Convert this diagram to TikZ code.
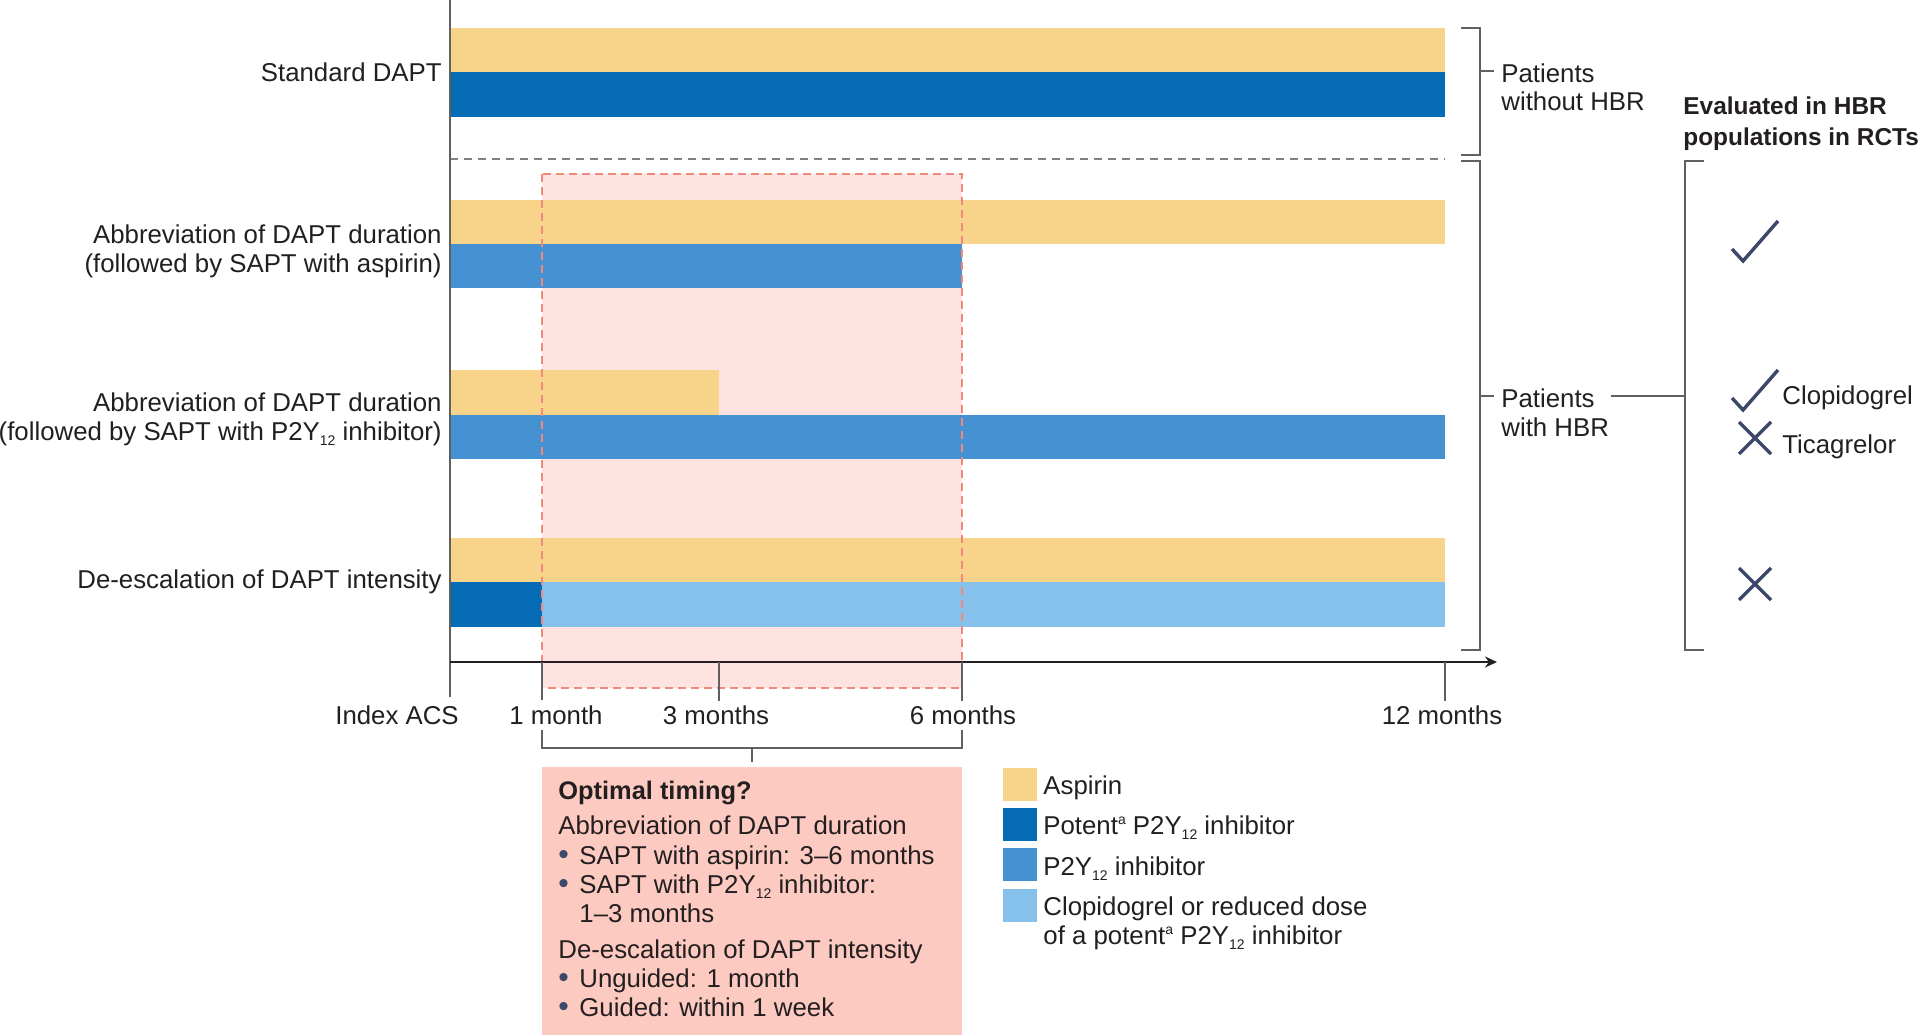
\documentclass[tikz,border=0pt]{standalone}
\usepackage{fontspec}
\setmainfont{Liberation Sans}
\usetikzlibrary{arrows.meta}
\definecolor{asp}{HTML}{F8D48A}
\definecolor{pot}{HTML}{056CB5}
\definecolor{ptwo}{HTML}{4591D1}
\definecolor{clo}{HTML}{85C1EB}
\definecolor{pinkbg}{HTML}{FFE3E0}
\definecolor{pinkline}{HTML}{EF8A7D}
\definecolor{optbox}{HTML}{FDCAC1}
\definecolor{txt}{HTML}{231F20}
\definecolor{brk}{HTML}{606060}
\definecolor{chk}{HTML}{3B4869}
\newcommand{\pyy}{P2Y\raisebox{-0.38ex}{\fontsize{7}{7}\selectfont 12}}
\newcommand{\supa}{\raisebox{5pt}{\fontsize{7}{7}\selectfont a}}
\newcommand{\bul}{\makebox[10.5pt][l]{\color{chk}\fontsize{15}{15}\selectfont\textbullet}}
\tikzset{
  x=0.5pt, y=-0.5pt,
  lbl/.style={inner sep=0pt, text=txt, font=\fontsize{12.9}{14.5}\selectfont},
  boldlbl/.style={inner sep=0pt, text=txt, font=\fontsize{12.2}{14}\selectfont\bfseries},
  brack/.style={draw=brk, line width=0.8pt},
  tickln/.style={draw=brk, line width=0.75pt},
  markln/.style={draw=chk, line width=1.7pt},
  swatch/.style={inner sep=0pt, minimum width=17pt, minimum height=16.5pt, anchor=north west}
}
\begin{document}
\begin{tikzpicture}
\useasboundingbox (0,0) rectangle (1920,1034);
\fill[white] (0,0) rectangle (1920,1034);

% shaded optimal window
\fill[pinkbg] (542,174) rectangle (962,688);

% bars
\fill[asp] (450,28) rectangle (1445,72);
\fill[pot] (450,72) rectangle (1445,117);
\fill[asp] (450,200) rectangle (1445,244);
\fill[ptwo] (450,244) rectangle (962,288);
\fill[asp] (450,370) rectangle (719,415);
\fill[ptwo] (450,415) rectangle (1445,459);
\fill[asp] (450,538) rectangle (1445,582);
\fill[pot] (450,582) rectangle (542,627);
\fill[clo] (542,582) rectangle (1445,627);

% dashed border of window
\draw[pinkline, line width=0.6pt, dash pattern=on 4pt off 2.5pt] (542,174) rectangle (962,688);

% separator
\draw[brk!80, line width=0.7pt, dash pattern=on 4pt off 3pt] (450,159) -- (1445,159);

% axes
\draw[brk, line width=0.8pt] (450,0) -- (450,697);
\draw[txt, line width=1pt, -{Stealth[length=6pt,width=5.5pt]}] (450,662) -- (1497,662);
\draw[tickln] (542,662) -- (542,700);
\draw[tickln] (719,662) -- (719,701);
\draw[tickln] (962,662) -- (962,701);
\draw[tickln] (1445,662) -- (1445,701);

% tick labels
\node[lbl, anchor=base] (t0) at (397,724) {Index ACS};
\node[lbl, anchor=base] (t1) at (556,724) {1 month};
\node[lbl, anchor=base] (t3) at (716,724) {3 months};
\node[lbl, anchor=base] (t6) at (963,724) {6 months};
\node[lbl, anchor=base] (t12) at (1442,724) {12 months};

% row labels
\node[lbl, anchor=base east] (r1) at (442,81) {Standard DAPT};
\node[lbl, anchor=base east] (r2a) at (442,243) {Abbreviation of DAPT duration};
\node[lbl, anchor=base east] (r2b) at (442,272) {(followed by SAPT with aspirin)};
\node[lbl, anchor=base east] (r3a) at (442,411) {Abbreviation of DAPT duration};
\node[lbl, anchor=base east] (r3b) at (442,440) {(followed by SAPT with \pyy{} inhibitor)};
\node[lbl, anchor=base east] (r4) at (442,588) {De-escalation of DAPT intensity};

% right brackets
\draw[brack] (1461,28) -- (1480,28) -- (1480,155) -- (1461,155);
\draw[brack] (1480,71) -- (1494,71);
\draw[brack] (1461,161) -- (1480,161) -- (1480,650) -- (1461,650);
\draw[brack] (1480,396) -- (1494,396);
\node[lbl, anchor=base west] (p1a) at (1501,82) {Patients};
\node[lbl, anchor=base west] (p1b) at (1501,110) {without HBR};
\node[lbl, anchor=base west] (p2a) at (1501,407) {Patients};
\node[lbl, anchor=base west] (p2b) at (1501,436) {with HBR};
\coordinate (c1) at (1611,396);
\coordinate (c2) at (1685,396);
\draw[brack] (c1) -- (c2);
\draw[brack] (1704,161) -- (1685,161) -- (1685,650) -- (1704,650);
\node[boldlbl, anchor=base west] (h1) at (1683,114) {Evaluated in HBR};
\node[boldlbl, anchor=base west] (h2) at (1683,145) {populations in RCTs};

% marks
\draw[markln] (1732,249) -- (1743,261) -- (1778,221);
\draw[markln] (1732,398) -- (1743,410) -- (1778,370);
\draw[markln] (1739,422) -- (1771,454) (1739,454) -- (1771,422);
\draw[markln] (1739,568) -- (1771,600) (1739,600) -- (1771,568);
\node[lbl, anchor=base west] (cl) at (1782,404) {Clopidogrel};
\node[lbl, anchor=base west] (ti) at (1782,453) {Ticagrelor};

% bracket below axis and optimal timing box
\draw[tickln] (542,730) -- (542,748) -- (962,748) -- (962,730);
\draw[tickln] (752,748) -- (752,762);
\fill[optbox] (542,767) rectangle (962,1040);
\node[lbl, anchor=base west, font=\fontsize{12.7}{14.5}\selectfont\bfseries] (o0) at (558,799) {Optimal timing?};
\node[lbl, anchor=base west] (o1) at (558,834) {Abbreviation of DAPT duration};
\node[lbl, anchor=base west] (o2) at (558,864) {\bul SAPT with aspirin: 3–6 months};
\node[lbl, anchor=base west] (o3) at (558,893) {\bul SAPT with \pyy{} inhibitor:};
\node[lbl, anchor=base west] (o4) at (579,922) {1–3 months};
\node[lbl, anchor=base west] (o5) at (558,958) {De-escalation of DAPT intensity};
\node[lbl, anchor=base west] (o6) at (558,987) {\bul Unguided: 1 month};
\node[lbl, anchor=base west] (o7) at (558,1016) {\bul Guided: within 1 week};

% legend
\node[swatch, fill=asp] (s1) at (1003,768) {};
\node[swatch, fill=pot] (s2) at (1003,808) {};
\node[swatch, fill=ptwo] (s3) at (1003,848) {};
\node[swatch, fill=clo] (s4) at (1003,889) {};
\node[lbl, anchor=base west] (l1) at (1043,794) {Aspirin};
\node[lbl, anchor=base west] (l2) at (1043,834) {Potent\supa{} \pyy{} inhibitor};
\node[lbl, anchor=base west] (l3) at (1043,875) {\pyy{} inhibitor};
\node[lbl, anchor=base west] (l4) at (1043,915) {Clopidogrel or reduced dose};
\node[lbl, anchor=base west] (l5) at (1043,944) {of a potent\supa{} \pyy{} inhibitor};
\end{tikzpicture}
\end{document}
